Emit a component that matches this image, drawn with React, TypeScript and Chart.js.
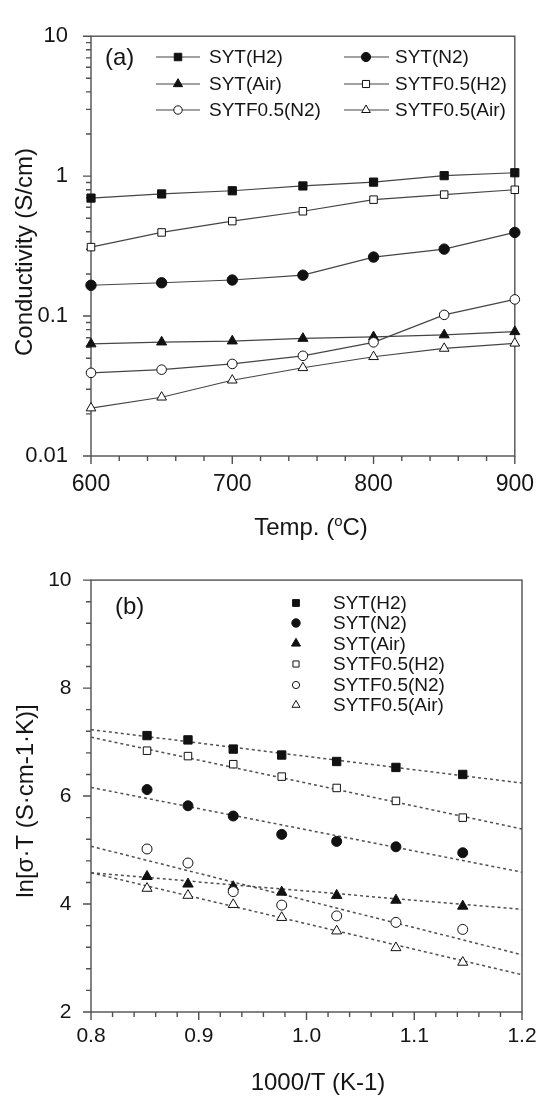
import React, { useEffect, useRef } from 'react';
import { Chart, registerables } from 'chart.js';

Chart.register(...registerables);

// ---------- data ----------
const SERIES_NAMES = ['SYT(H2)', 'SYT(N2)', 'SYT(Air)', 'SYTF0.5(H2)', 'SYTF0.5(N2)', 'SYTF0.5(Air)'];

// panel (a): conductivity (S/cm) vs temperature (°C)
const TEMPS = [600, 650, 700, 750, 800, 850, 900];
const A_SYT_H2 = [0.697, 0.746, 0.786, 0.851, 0.906, 1.008, 1.057];
const A_SYT_N2 = [0.166, 0.173, 0.181, 0.196, 0.264, 0.301, 0.396];
const A_SYT_AIR = [0.0632, 0.0652, 0.0663, 0.0692, 0.071, 0.0733, 0.0773];
const A_SYTF_H2 = [0.311, 0.396, 0.477, 0.561, 0.679, 0.738, 0.799];
const A_SYTF_N2 = [0.0393, 0.0414, 0.0455, 0.052, 0.0649, 0.102, 0.1315];
const A_SYTF_AIR = [0.022, 0.0263, 0.0348, 0.0427, 0.0512, 0.0587, 0.0639];

// panel (b): ln(sigma*T) vs 1000/T
const INV_T = [0.852, 0.89, 0.932, 0.977, 1.028, 1.083, 1.145];
const B_SYT_H2 = [7.12, 7.04, 6.87, 6.76, 6.64, 6.53, 6.4];
const B_SYT_N2 = [6.12, 5.82, 5.63, 5.29, 5.16, 5.06, 4.95];
const B_SYT_AIR = [4.51, 4.37, 4.32, 4.22, 4.16, 4.07, 3.96];
const B_SYTF_H2 = [6.84, 6.74, 6.59, 6.36, 6.15, 5.91, 5.6];
const B_SYTF_N2 = [5.02, 4.76, 4.23, 3.98, 3.78, 3.66, 3.53];
const B_SYTF_AIR = [4.29, 4.16, 3.99, 3.75, 3.5, 3.19, 2.92];

// linear fits: x ends and y at those ends
const FIT_X = [0.8, 1.2];
const FIT_SYT_H2 = [7.23, 6.24];
const FIT_SYT_N2 = [6.16, 4.59];
const FIT_SYT_AIR = [4.58, 3.9];
const FIT_SYTF_H2 = [7.09, 5.39];
const FIT_SYTF_N2 = [5.07, 3.06];
const FIT_SYTF_AIR = [4.58, 2.69];

// axes / ticks
const A_X_MIN = 600, A_X_MAX = 900, A_X_STEP = 20, A_X_LABEL_EVERY = 100;
const A_Y_MIN = 0.01, A_Y_MAX = 10;
const A_Y_DECADES = [0.01, 0.1, 1];
const A_Y_LABELS = ['0.01', '0.1', '1', '10'];
const B_X_MIN = 0.8, B_X_MAX = 1.2, B_X_STEP = 0.02;
const B_Y_MIN = 2, B_Y_MAX = 10, B_Y_STEP = 0.4;

const A_VALUES = [A_SYT_H2, A_SYT_N2, A_SYT_AIR, A_SYTF_H2, A_SYTF_N2, A_SYTF_AIR];
const B_VALUES = [B_SYT_H2, B_SYT_N2, B_SYT_AIR, B_SYTF_H2, B_SYTF_N2, B_SYTF_AIR];
const B_FITS = [FIT_SYT_H2, FIT_SYT_N2, FIT_SYT_AIR, FIT_SYTF_H2, FIT_SYTF_N2, FIT_SYTF_AIR];

// ---------- style ----------
const FONT = '"Liberation Sans", Arial, Helvetica, sans-serif';
const TEXT = '#151515';
const AXIS = '#505050';
const MARK = '#111111';
const LINE = '#454545';
const STYLES = ['rect', 'circle', 'triangle', 'rect', 'circle', 'triangle'];
const FILLED = [true, true, true, false, false, false];
const R_A = [5.8, 5.2, 5.8, 5.3, 4.8, 5.6];
const R_B = [5.9, 5.0, 6.0, 5.3, 5.0, 5.8];
const R_LEG_A = [5.3, 4.6, 5.3, 5.0, 4.2, 5.0];
const R_LEG_B = [4.8, 4.2, 5.2, 4.3, 3.6, 4.6];

function rangeTicks(min: number, max: number, step: number) {
  const out: number[] = [];
  const n = Math.round((max - min) / step);
  for (let i = 0; i <= n; i++) out.push(Math.round((min + i * step) * 1e6) / 1e6);
  return out;
}

function logTicks() {
  const out: { v: number; major: boolean }[] = [];
  A_Y_DECADES.forEach((d) => {
    for (let k = 1; k <= 9; k++) out.push({ v: k * d, major: k === 1 });
  });
  out.push({ v: A_Y_MAX, major: true });
  return out;
}

function drawMarker(ctx: CanvasRenderingContext2D, style: string, x: number, y: number, r: number, filled: boolean) {
  ctx.beginPath();
  if (style === 'rect') {
    const s = r * Math.SQRT1_2;
    ctx.rect(x - s, y - s, 2 * s, 2 * s);
  } else if (style === 'circle') {
    ctx.arc(x, y, r, 0, Math.PI * 2);
  } else {
    ctx.moveTo(x, y - r);
    ctx.lineTo(x + r * 0.866, y + r * 0.5);
    ctx.lineTo(x - r * 0.866, y + r * 0.5);
    ctx.closePath();
  }
  ctx.fillStyle = filled ? MARK : '#ffffff';
  ctx.fill();
  ctx.lineWidth = 1;
  ctx.strokeStyle = MARK;
  ctx.stroke();
}

function framePlugin() {
  return {
    id: 'frameTicks',
    beforeDatasetsDraw(chart: any) {
      const ctx = chart.ctx as CanvasRenderingContext2D;
      const a = chart.chartArea;
      ctx.save();
      ctx.strokeStyle = AXIS;
      ctx.lineWidth = 1.4;
      ctx.strokeRect(a.left, a.top, a.right - a.left, a.bottom - a.top);
      const xs = chart.scales.x;
      const ys = chart.scales.y;
      ctx.beginPath();
      xs.ticks.forEach((t: any) => {
        const p = xs.getPixelForValue(t.value);
        const len = t.label ? 8 : 5;
        ctx.moveTo(p, a.bottom);
        ctx.lineTo(p, a.bottom + len);
      });
      ys.ticks.forEach((t: any) => {
        const p = ys.getPixelForValue(t.value);
        const len = t.label ? 8 : 5;
        ctx.moveTo(a.left, p);
        ctx.lineTo(a.left - len, p);
      });
      ctx.stroke();
      ctx.restore();
    },
  };
}

function textPluginA() {
  return {
    id: 'textA',
    afterDraw(chart: any) {
      const ctx = chart.ctx as CanvasRenderingContext2D;
      ctx.save();
      ctx.fillStyle = TEXT;
      // y title
      ctx.save();
      ctx.translate(25, 252);
      ctx.rotate(-Math.PI / 2);
      ctx.font = `24px ${FONT}`;
      ctx.textAlign = 'center';
      ctx.textBaseline = 'middle';
      ctx.fillText('Conductivity (S/cm)', 0, 0);
      ctx.restore();
      // x title with superscript
      ctx.font = `24px ${FONT}`;
      ctx.textBaseline = 'alphabetic';
      ctx.textAlign = 'left';
      const p1 = 'Temp. (';
      const p3 = 'C)';
      const w1 = ctx.measureText(p1).width;
      const w3 = ctx.measureText(p3).width;
      ctx.font = `15px ${FONT}`;
      const w2 = ctx.measureText('o').width;
      let x = 311 - (w1 + w2 + w3) / 2;
      const base = 535;
      ctx.font = `24px ${FONT}`;
      ctx.fillText(p1, x, base);
      x += w1;
      ctx.font = `15px ${FONT}`;
      ctx.fillText('o', x, base - 9);
      x += w2;
      ctx.font = `24px ${FONT}`;
      ctx.fillText(p3, x, base);
      // panel label
      ctx.font = `24px ${FONT}`;
      ctx.textBaseline = 'middle';
      ctx.fillText('(a)', 105, 58);
      // legend
      const rows = [57, 84, 110];
      const cols = [{ l0: 156, l1: 200, m: 178, t: 209 }, { l0: 344, l1: 389, m: 366, t: 395 }];
      SERIES_NAMES.forEach((name, i) => {
        const row = rows[Math.floor(i / 2)];
        const c = cols[i % 2];
        ctx.beginPath();
        ctx.strokeStyle = LINE;
        ctx.lineWidth = 1.2;
        ctx.moveTo(c.l0, row);
        ctx.lineTo(c.l1, row);
        ctx.stroke();
        drawMarker(ctx, STYLES[i], c.m, row, R_LEG_A[i], FILLED[i]);
        ctx.fillStyle = TEXT;
        ctx.font = `19px ${FONT}`;
        ctx.textAlign = 'left';
        ctx.textBaseline = 'middle';
        ctx.fillText(name, c.t, row + 1);
      });
      ctx.restore();
    },
  };
}

function textPluginB() {
  return {
    id: 'textB',
    afterDraw(chart: any) {
      const ctx = chart.ctx as CanvasRenderingContext2D;
      ctx.save();
      ctx.fillStyle = TEXT;
      ctx.save();
      ctx.translate(26, 253);
      ctx.rotate(-Math.PI / 2);
      ctx.font = `24px ${FONT}`;
      ctx.textAlign = 'center';
      ctx.textBaseline = 'middle';
      ctx.fillText('ln[σ·T (S·cm-1·K)]', 0, 0);
      ctx.restore();
      ctx.font = `24px ${FONT}`;
      ctx.textAlign = 'center';
      ctx.textBaseline = 'middle';
      ctx.fillText('1000/T (K-1)', 318, 535);
      ctx.textAlign = 'left';
      ctx.fillText('(b)', 115, 59);
      const rows = [55, 75, 95.5, 116, 137, 157];
      SERIES_NAMES.forEach((name, i) => {
        const y = rows[i];
        drawMarker(ctx, STYLES[i], 296, y, R_LEG_B[i], FILLED[i]);
        ctx.fillStyle = TEXT;
        ctx.font = `19px ${FONT}`;
        ctx.textAlign = 'left';
        ctx.textBaseline = 'middle';
        ctx.fillText(name, 333, y + 1);
      });
      ctx.restore();
    },
  };
}

function configA(): any {
  const xTicks = rangeTicks(A_X_MIN, A_X_MAX, A_X_STEP);
  const yTicks = logTicks();
  return {
    type: 'line',
    data: {
      datasets: SERIES_NAMES.map((name, i) => ({
        label: name,
        data: TEMPS.map((t, j) => ({ x: t, y: A_VALUES[i][j] })),
        borderColor: LINE,
        borderWidth: 1.2,
        pointStyle: STYLES[i],
        pointRadius: R_A[i],
        pointBackgroundColor: FILLED[i] ? MARK : '#ffffff',
        pointBorderColor: MARK,
        pointBorderWidth: 1,
        tension: 0,
        clip: false,
        order: 10 - i,
      })),
    },
    options: {
      responsive: false,
      animation: false,
      devicePixelRatio: 1,
      events: [],
      layout: { padding: { top: 19, right: 27, left: 0, bottom: 0 }, autoPadding: false },
      plugins: { legend: { display: false }, tooltip: { enabled: false } },
      scales: {
        x: {
          type: 'linear',
          min: A_X_MIN,
          max: A_X_MAX,
          afterBuildTicks: (s: any) => {
            s.ticks = xTicks.map((v) => ({ value: v }));
          },
          afterFit: (s: any) => {
            s.height = 92;
          },
          ticks: {
            autoSkip: false,
            maxRotation: 0,
            padding: 15,
            color: TEXT,
            font: { family: FONT, size: 23 },
            callback: (v: number) => (Math.round(v) % A_X_LABEL_EVERY === 0 ? String(Math.round(v)) : ''),
          },
          grid: { display: false, drawTicks: false },
          border: { display: false },
        },
        y: {
          type: 'logarithmic',
          min: A_Y_MIN,
          max: A_Y_MAX,
          afterBuildTicks: (s: any) => {
            s.ticks = yTicks.map((t) => ({ value: t.v, major: t.major }));
          },
          afterFit: (s: any) => {
            s.width = 91;
          },
          ticks: {
            autoSkip: false,
            padding: 23,
            color: TEXT,
            font: { family: FONT, size: 22 },
            callback: (v: number, idx: number) => {
              const t = yTicks[idx];
              if (!t || !t.major) return '';
              const k = [...A_Y_DECADES, A_Y_MAX].findIndex((d) => Math.abs(d - t.v) < 1e-9);
              return k >= 0 ? A_Y_LABELS[k] : '';
            },
          },
          grid: { display: false, drawTicks: false },
          border: { display: false },
        },
      },
    },
    plugins: [framePlugin(), textPluginA()],
  };
}

function configB(): any {
  const xTicks = rangeTicks(B_X_MIN, B_X_MAX, B_X_STEP);
  const yTicks = rangeTicks(B_Y_MIN, B_Y_MAX, B_Y_STEP);
  const markers = SERIES_NAMES.map((name, i) => ({
    label: name,
    data: INV_T.map((x, j) => ({ x, y: B_VALUES[i][j] })),
    showLine: false,
    pointStyle: STYLES[i],
    pointRadius: R_B[i],
    pointBackgroundColor: FILLED[i] ? MARK : '#ffffff',
    pointBorderColor: MARK,
    pointBorderWidth: 1,
    clip: false,
    order: 10 - i,
  }));
  const fits = SERIES_NAMES.map((name, i) => ({
    label: name + ' fit',
    data: FIT_X.map((x, j) => ({ x, y: B_FITS[i][j] })),
    showLine: true,
    borderColor: '#505050',
    borderWidth: 1.5,
    borderDash: [3, 3],
    pointRadius: 0,
    clip: false,
    order: 20,
  }));
  return {
    type: 'scatter',
    data: { datasets: [...markers, ...fits] },
    options: {
      responsive: false,
      animation: false,
      devicePixelRatio: 1,
      events: [],
      layout: { padding: { top: 24, right: 27, left: 0, bottom: 0 }, autoPadding: false },
      plugins: { legend: { display: false }, tooltip: { enabled: false } },
      scales: {
        x: {
          type: 'linear',
          min: B_X_MIN,
          max: B_X_MAX,
          afterBuildTicks: (s: any) => {
            s.ticks = xTicks.map((v) => ({ value: v }));
          },
          afterFit: (s: any) => {
            s.height = 85;
          },
          ticks: {
            autoSkip: false,
            maxRotation: 0,
            padding: 12,
            color: TEXT,
            font: { family: FONT, size: 21 },
            callback: (v: number, idx: number) => (idx % 5 === 0 ? xTicks[idx].toFixed(1) : ''),
          },
          grid: { display: false, drawTicks: false },
          border: { display: false },
        },
        y: {
          type: 'linear',
          min: B_Y_MIN,
          max: B_Y_MAX,
          afterBuildTicks: (s: any) => {
            s.ticks = yTicks.map((v) => ({ value: v }));
          },
          afterFit: (s: any) => {
            s.width = 91;
          },
          ticks: {
            autoSkip: false,
            padding: 19.5,
            color: TEXT,
            font: { family: FONT, size: 21 },
            callback: (v: number, idx: number) => (idx % 5 === 0 ? String(Math.round(yTicks[idx])) : ''),
          },
          grid: { display: false, drawTicks: false },
          border: { display: false },
        },
      },
    },
    plugins: [framePlugin(), textPluginB()],
  };
}

export default function App() {
  const refA = useRef<HTMLCanvasElement | null>(null);
  const refB = useRef<HTMLCanvasElement | null>(null);
  useEffect(() => {
    const ca = new Chart(refA.current as HTMLCanvasElement, configA());
    const cb = new Chart(refB.current as HTMLCanvasElement, configB());
    return () => {
      ca.destroy();
      cb.destroy();
    };
  }, []);
  return (
    <div style={{ position: 'absolute', left: 0, top: 0, width: 549, height: 1097, background: '#ffffff' }}>
      <canvas ref={refA} width={549} height={548} style={{ display: 'block', width: 549, height: 548 }} />
      <canvas ref={refB} width={549} height={549} style={{ display: 'block', width: 549, height: 549 }} />
    </div>
  );
}
